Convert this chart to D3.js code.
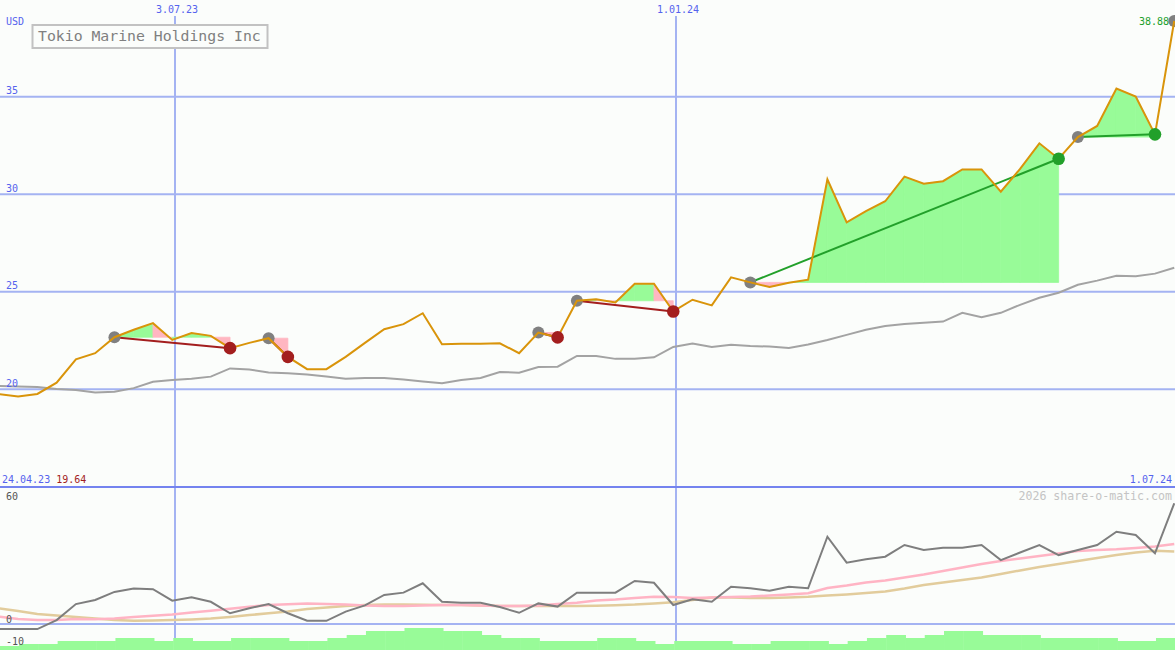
<!DOCTYPE html>
<html><head><meta charset="utf-8">
<script src="https://cdn.jsdelivr.net/npm/d3@7/dist/d3.min.js"></script>
<style>html,body{margin:0;padding:0;background:#fbfdfb;}svg{display:block;}</style>
</head><body>
<svg id="c" width="1175" height="650"></svg>
<script>
// ---- data ----
const title = "Tokio Marine Holdings Inc";
const currency = "USD";
const dates = ["2023-04-30","2023-05-07","2023-05-14","2023-05-21","2023-05-28","2023-06-04","2023-06-11","2023-06-18","2023-06-25","2023-07-02",
"2023-07-09","2023-07-16","2023-07-23","2023-07-30","2023-08-06","2023-08-13","2023-08-20","2023-08-27","2023-09-03","2023-09-10",
"2023-09-17","2023-09-24","2023-10-01","2023-10-08","2023-10-15","2023-10-22","2023-10-29","2023-11-05","2023-11-12","2023-11-19",
"2023-11-26","2023-12-03","2023-12-10","2023-12-17","2023-12-24","2023-12-31","2024-01-07","2024-01-14","2024-01-21","2024-01-28",
"2024-02-04","2024-02-11","2024-02-18","2024-02-25","2024-03-03","2024-03-10","2024-03-17","2024-03-24","2024-03-31","2024-04-07",
"2024-04-14","2024-04-21","2024-04-28","2024-05-05","2024-05-12","2024-05-19","2024-05-26","2024-06-02","2024-06-09","2024-06-16",
"2024-06-23","2024-06-30"];
const price = [19.75,19.63,19.76,20.34,21.54,21.85,22.67,23.05,23.39,22.53,
22.88,22.74,22.11,22.38,22.62,21.66,21.03,21.03,21.66,22.38,
23.08,23.34,23.90,22.31,22.33,22.33,22.36,21.85,22.91,22.66,
24.54,24.62,24.45,25.41,25.41,23.99,24.59,24.30,25.74,25.48,
25.24,25.46,25.62,30.76,28.56,29.13,29.64,30.90,30.54,30.67,
31.27,31.27,30.13,31.30,32.61,31.82,32.93,33.50,35.42,35.01,
33.07,38.88];
const movingAvg = [20.17,20.14,20.12,20.01,19.96,19.83,19.87,20.06,20.39,20.48,
20.54,20.65,21.07,21.02,20.86,20.82,20.76,20.66,20.54,20.58,
20.58,20.50,20.40,20.31,20.48,20.58,20.89,20.85,21.14,21.16,
21.71,21.71,21.56,21.56,21.64,22.17,22.35,22.17,22.28,22.22,
22.19,22.12,22.30,22.53,22.79,23.05,23.25,23.35,23.41,23.47,
23.92,23.69,23.92,24.33,24.69,24.95,25.36,25.57,25.82,25.80,
25.93,26.23];
const oscillator = [-2.2,-2.2,-2.2,1.7,8.7,10.5,14.0,15.5,15.2,10.2,
11.7,9.7,4.7,6.9,8.7,4.7,1.4,1.4,5.4,8.1,
12.7,13.7,17.8,9.7,9.3,9.3,7.4,4.9,9.0,7.6,
13.7,13.7,13.7,18.8,18.0,8.3,10.8,9.7,16.3,15.6,
14.5,16.3,15.6,38.1,26.8,28.3,29.4,34.5,32.3,33.3,
33.3,34.5,27.9,31.2,34.5,30.1,32.3,34.5,40.3,38.9,
30.9,52.7];
const oscFast = [3.2,2.2,1.7,1.7,2.2,2.1,2.4,3.1,3.6,4.2,
5.0,5.8,6.7,7.5,8.3,8.6,9.0,8.7,8.5,8.1,
7.9,7.9,8.1,8.3,8.3,8.1,7.9,7.9,8.1,8.7,
9.3,10.3,10.7,11.4,11.9,11.8,11.4,11.6,11.8,12.0,
12.4,12.9,13.4,15.7,16.8,18.1,19.0,20.3,21.6,23.1,
24.7,26.2,27.5,28.6,29.7,30.8,31.9,32.3,32.6,33.2,
33.8,34.9];
const oscSlow = [6.8,5.7,4.4,3.7,3.1,2.4,1.8,1.4,1.5,1.7,
2.0,2.4,3.1,3.9,4.7,5.5,6.6,7.2,7.9,8.3,
8.5,8.5,8.4,8.3,8.3,8.1,7.9,7.9,7.9,7.9,
7.9,8.0,8.2,8.5,9.0,9.5,10.5,11.6,11.6,11.4,
11.4,11.6,11.9,12.4,12.9,13.5,14.2,15.5,17.0,18.1,
19.2,20.3,21.8,23.4,24.9,26.2,27.5,28.8,30.1,31.2,
32.0,31.7];
const volume = [4,6,6,9,9,9,12,12,9,12,
9,9,12,12,12,9,9,12,15,19,
19,22,22,19,19,15,12,12,9,9,
9,12,12,9,6,9,9,9,6,6,
9,9,9,6,9,12,15,12,15,19,
19,15,15,15,12,12,12,12,9,9,
12,12];
const entryIdx = [6,14,28,30,39,56,61];
const exitIdx  = [12,15,29,35,55,60,null];
const priceTicks = [35,30,25,20];
const oscTicks = [60,0,-10];
const dateTicks = ["2023-07-03","2024-01-01"];
const dateTickLabels = ["3.07.23","1.01.24"];
const startLabel = "24.04.23", startPrice = "19.64", endLabel = "1.07.24", lastPriceLabel = "38.88";
const credit = "2026 share-o-matic.com";

// ---- scales ----
const W = 1175, H = 650;
const parse = d3.utcParse("%Y-%m-%d");
const D = dates.map(parse);
const x = d3.scaleUtc().domain([parse("2023-07-03"), parse("2024-01-01")]).range([175, 676]);
const yP = d3.scaleLinear().domain([20, 35]).range([389.3, 96.7]);
const yO = d3.scaleLinear().domain([-10, 60]).range([646.9, 486.6]);
const yV = d3.scaleLinear().domain([0, 40]).range([650, 610]);

const svg = d3.select("#c");
const FONT = "'DejaVu Sans Mono', monospace";
const BLUE_T = "#5563ee", GRID = "#a4b3f2", SEP = "#7483ef";
const ORANGE = "#d9940a", PGREEN = "#98fb98", PINK = "#ffb6c1";
const RED = "#a31e1e", GREEN = "#22a02a", GRAY = "#808080";

svg.append("rect").attr("width", W).attr("height", H).attr("fill", "#fbfdfb");

// grid lines
svg.selectAll(".hg").data(priceTicks).enter().append("line")
  .attr("x1", 0).attr("x2", W).attr("y1", d => yP(d)).attr("y2", d => yP(d))
  .attr("stroke", GRID).attr("stroke-width", 2);
svg.append("line").attr("x1", 0).attr("x2", W).attr("y1", yO(0)).attr("y2", yO(0))
  .attr("stroke", GRID).attr("stroke-width", 2);
svg.selectAll(".vg").data(dateTicks).enter().append("line")
  .attr("x1", d => x(parse(d))).attr("x2", d => x(parse(d))).attr("y1", 16).attr("y2", H)
  .attr("stroke", GRID).attr("stroke-width", 2);
svg.append("line").attr("x1", 0).attr("x2", W).attr("y1", 487).attr("y2", 487)
  .attr("stroke", SEP).attr("stroke-width", 2);

// volume bars
svg.selectAll(".vol").data(volume).enter().append("rect")
  .attr("x", (d, i) => x(D[i]) + 1)
  .attr("width", (d, i) => (i < D.length - 1 ? x(D[i + 1]) - x(D[i]) : x(D[i]) - x(D[i - 1])) + 0.5)
  .attr("y", d => yV(d)).attr("height", d => H - yV(d))
  .attr("fill", PGREEN);

// trade fills
const poly = d3.line().x(p => p[0]).y(p => p[1]);
entryIdx.forEach((a, t) => {
  const b = exitIdx[t];
  if (b == null) return;
  const L = price[a];
  for (let k = a; k < b; k++) {
    const pts = [[x(D[k]), yP(price[k])], [x(D[k + 1]), yP(price[k + 1])], [x(D[k + 1]), yP(L)], [x(D[k]), yP(L)]];
    const col = price[k + 1] >= L ? PGREEN : PINK;
    svg.append("path").attr("d", poly(pts) + "Z")
      .attr("fill", col).attr("stroke", col).attr("stroke-width", 0.8);
  }
});

// moving average
const lineP = d3.line().x((d, i) => x(D[i])).y(d => yP(d));
svg.append("path").attr("d", lineP(movingAvg)).attr("fill", "none")
  .attr("stroke", "#a3a3a3").attr("stroke-width", 2);

// oscillator panel lines
const lineO = d3.line().x((d, i) => x(D[i])).y(d => yO(d));
svg.append("path").attr("d", lineO(oscSlow)).attr("fill", "none").attr("stroke", "#e2cc9c").attr("stroke-width", 2.5);
svg.append("path").attr("d", lineO(oscFast)).attr("fill", "none").attr("stroke", "#ffb4c4").attr("stroke-width", 2.5);
svg.append("path").attr("d", lineO(oscillator)).attr("fill", "none").attr("stroke", "#7e7e7e").attr("stroke-width", 2);

// trade connecting lines
entryIdx.forEach((a, t) => {
  const b = exitIdx[t];
  if (b == null) return;
  svg.append("line").attr("x1", x(D[a])).attr("y1", yP(price[a]))
    .attr("x2", x(D[b])).attr("y2", yP(price[b]))
    .attr("stroke", price[b] >= price[a] ? GREEN : RED).attr("stroke-width", 2);
});

// entry markers
svg.selectAll(".ent").data(entryIdx).enter().append("circle")
  .attr("cx", i => x(D[i])).attr("cy", i => yP(price[i])).attr("r", 6).attr("fill", GRAY);

// price line
svg.append("path").attr("d", lineP(price)).attr("fill", "none")
  .attr("stroke", ORANGE).attr("stroke-width", 2);

// exit markers
entryIdx.forEach((a, t) => {
  const b = exitIdx[t];
  if (b == null) return;
  svg.append("circle").attr("cx", x(D[b])).attr("cy", yP(price[b])).attr("r", 6.3)
    .attr("fill", price[b] >= price[a] ? GREEN : RED);
});

// ---- texts ----
function txt(s, xx, yy, col, anchor, size) {
  return svg.append("text").attr("x", xx).attr("y", yy).attr("fill", col)
    .attr("font-family", FONT).attr("font-size", size || 10)
    .attr("text-anchor", anchor || "start").attr("dominant-baseline", "central").text(s);
}
txt(currency, 6, 21, BLUE_T);
priceTicks.forEach(t => txt(String(t), 6, yP(t) - 6, BLUE_T));
dateTicks.forEach((d, i) => txt(dateTickLabels[i], x(parse(d)) + 2, 9, BLUE_T, "middle"));
oscTicks.forEach(t => txt(String(t), 6, Math.max(yO(t) - 5, 496), "#555555"));
const sl = txt(startLabel + " ", 2, 479, BLUE_T);
sl.append("tspan").attr("fill", RED).text(startPrice);
txt(endLabel, 1172, 479, BLUE_T, "end");
txt(credit, 1172, 496, "#c4c4c4", "end", 11.6);
txt(lastPriceLabel, 1169, 21, GREEN, "end");

// title box
svg.append("rect").attr("x", 32.5).attr("y", 25).attr("width", 235).attr("height", 23)
  .attr("fill", "#fbfdfb").attr("stroke", "#c2c2c2").attr("stroke-width", 2);
svg.append("text").attr("x", 38).attr("y", 41).attr("fill", "#808080")
  .attr("font-family", FONT).attr("font-size", 14.8).text(title);
</script>
</body></html>
